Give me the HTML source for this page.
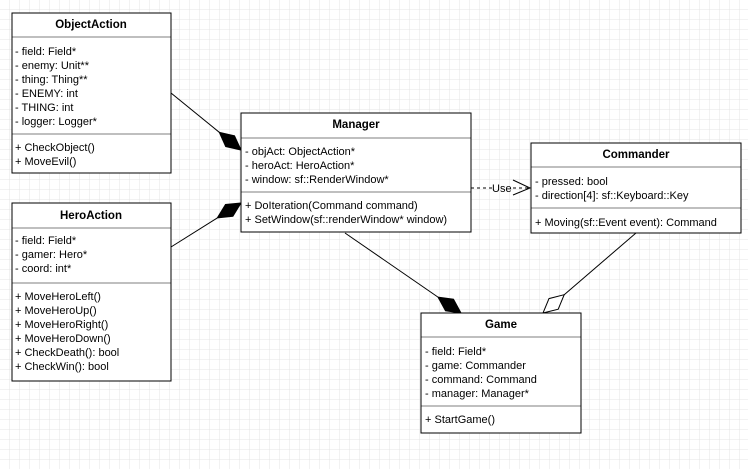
<!DOCTYPE html>
<html><head><style>
html,body{margin:0;padding:0;background:#fff;}
svg{display:block;}
text{font-family:"Liberation Sans",Arial,sans-serif;font-size:11px;fill:#000;}
.t{font-weight:bold;font-size:11.5px;text-anchor:middle;}
</style></head><body>
<svg width="748" height="469" viewBox="0 0 748 469">
<defs>
<pattern id="g" width="10" height="10" patternUnits="userSpaceOnUse">
<path d="M10 0V10M0 10H10" stroke="#e4e4e4" stroke-width="1" fill="none"/>
</pattern>
</defs>
<rect width="748" height="469" fill="url(#g)"/>

<!-- connectors -->
<line x1="171" y1="93" x2="219.3" y2="132.3" stroke="#000"/>
<polygon points="241,150 234.5,135.8 219.3,132.3 225.7,146.6" fill="#000" stroke="#000"/>
<line x1="171" y1="247" x2="217.3" y2="217.9" stroke="#000"/>
<polygon points="241,203 225.5,204.5 217.3,217.9 232.9,216.3" fill="#000" stroke="#000"/>
<line x1="345" y1="233" x2="438" y2="297.1" stroke="#000"/>
<polygon points="461,313 453.5,299.2 438,297.1 445.5,310.8" fill="#000" stroke="#000"/>
<line x1="636" y1="233" x2="564.2" y2="294.7" stroke="#000"/>
<polygon points="543,313 558.2,309.2 564.2,294.7 549,298.6" fill="#fff" stroke="#000"/>
<line x1="471" y1="188" x2="492" y2="188" stroke="#000" stroke-dasharray="3,3"/>
<text x="492" y="192">Use</text>
<line x1="513" y1="188" x2="530" y2="188" stroke="#000" stroke-dasharray="3,3"/>
<polyline points="513,180 530,188 513,195" fill="none" stroke="#000"/>

<!-- ObjectAction -->
<rect x="12" y="13" width="159" height="160" fill="#fff" stroke="#000"/>
<line x1="12" y1="37" x2="171" y2="37" stroke="#000" stroke-opacity=".5"/>
<line x1="12" y1="134" x2="171" y2="134" stroke="#000" stroke-opacity=".5"/>
<text class="t" x="91" y="28">ObjectAction</text>
<text x="15" y="55">- field: Field*</text>
<text x="15" y="69">- enemy: Unit**</text>
<text x="15" y="83">- thing: Thing**</text>
<text x="15" y="97">- ENEMY: int</text>
<text x="15" y="111">- THING: int</text>
<text x="15" y="125">- logger: Logger*</text>
<text x="15" y="151">+ CheckObject()</text>
<text x="15" y="165">+ MoveEvil()</text>

<!-- HeroAction -->
<rect x="12" y="203" width="159" height="178" fill="#fff" stroke="#000"/>
<line x1="12" y1="228" x2="171" y2="228" stroke="#000" stroke-opacity=".5"/>
<line x1="12" y1="283" x2="171" y2="283" stroke="#000" stroke-opacity=".5"/>
<text class="t" x="91" y="219">HeroAction</text>
<text x="15" y="244">- field: Field*</text>
<text x="15" y="258">- gamer: Hero*</text>
<text x="15" y="272">- coord: int*</text>
<text x="15" y="300">+ MoveHeroLeft()</text>
<text x="15" y="314">+ MoveHeroUp()</text>
<text x="15" y="328">+ MoveHeroRight()</text>
<text x="15" y="342">+ MoveHeroDown()</text>
<text x="15" y="356">+ CheckDeath(): bool</text>
<text x="15" y="370">+ CheckWin(): bool</text>

<!-- Manager -->
<rect x="241" y="113" width="230" height="119" fill="#fff" stroke="#000"/>
<line x1="241" y1="138" x2="471" y2="138" stroke="#000" stroke-opacity=".5"/>
<line x1="241" y1="192" x2="471" y2="192" stroke="#000" stroke-opacity=".5"/>
<text class="t" x="356" y="128">Manager</text>
<text x="245" y="155">- objAct: ObjectAction*</text>
<text x="245" y="169">- heroAct: HeroAction*</text>
<text x="245" y="183">- window: sf::RenderWindow*</text>
<text x="245" y="209">+ DoIteration(Command command)</text>
<text x="245" y="223">+ SetWindow(sf::renderWindow* window)</text>

<!-- Commander -->
<rect x="531" y="143" width="210" height="90" fill="#fff" stroke="#000"/>
<line x1="531" y1="167" x2="741" y2="167" stroke="#000" stroke-opacity=".5"/>
<line x1="531" y1="208" x2="741" y2="208" stroke="#000" stroke-opacity=".5"/>
<text class="t" x="636" y="158">Commander</text>
<text x="535" y="185">- pressed: bool</text>
<text x="535" y="199">- direction[4]: sf::Keyboard::Key</text>
<text x="535" y="226">+ Moving(sf::Event event): Command</text>

<!-- Game -->
<rect x="421" y="313" width="160" height="120" fill="#fff" stroke="#000"/>
<line x1="421" y1="337" x2="581" y2="337" stroke="#000" stroke-opacity=".5"/>
<line x1="421" y1="406" x2="581" y2="406" stroke="#000" stroke-opacity=".5"/>
<text class="t" x="501" y="328">Game</text>
<text x="425" y="355">- field: Field*</text>
<text x="425" y="369">- game: Commander</text>
<text x="425" y="383">- command: Command</text>
<text x="425" y="397">- manager: Manager*</text>
<text x="425" y="423">+ StartGame()</text>
</svg>
</body></html>
